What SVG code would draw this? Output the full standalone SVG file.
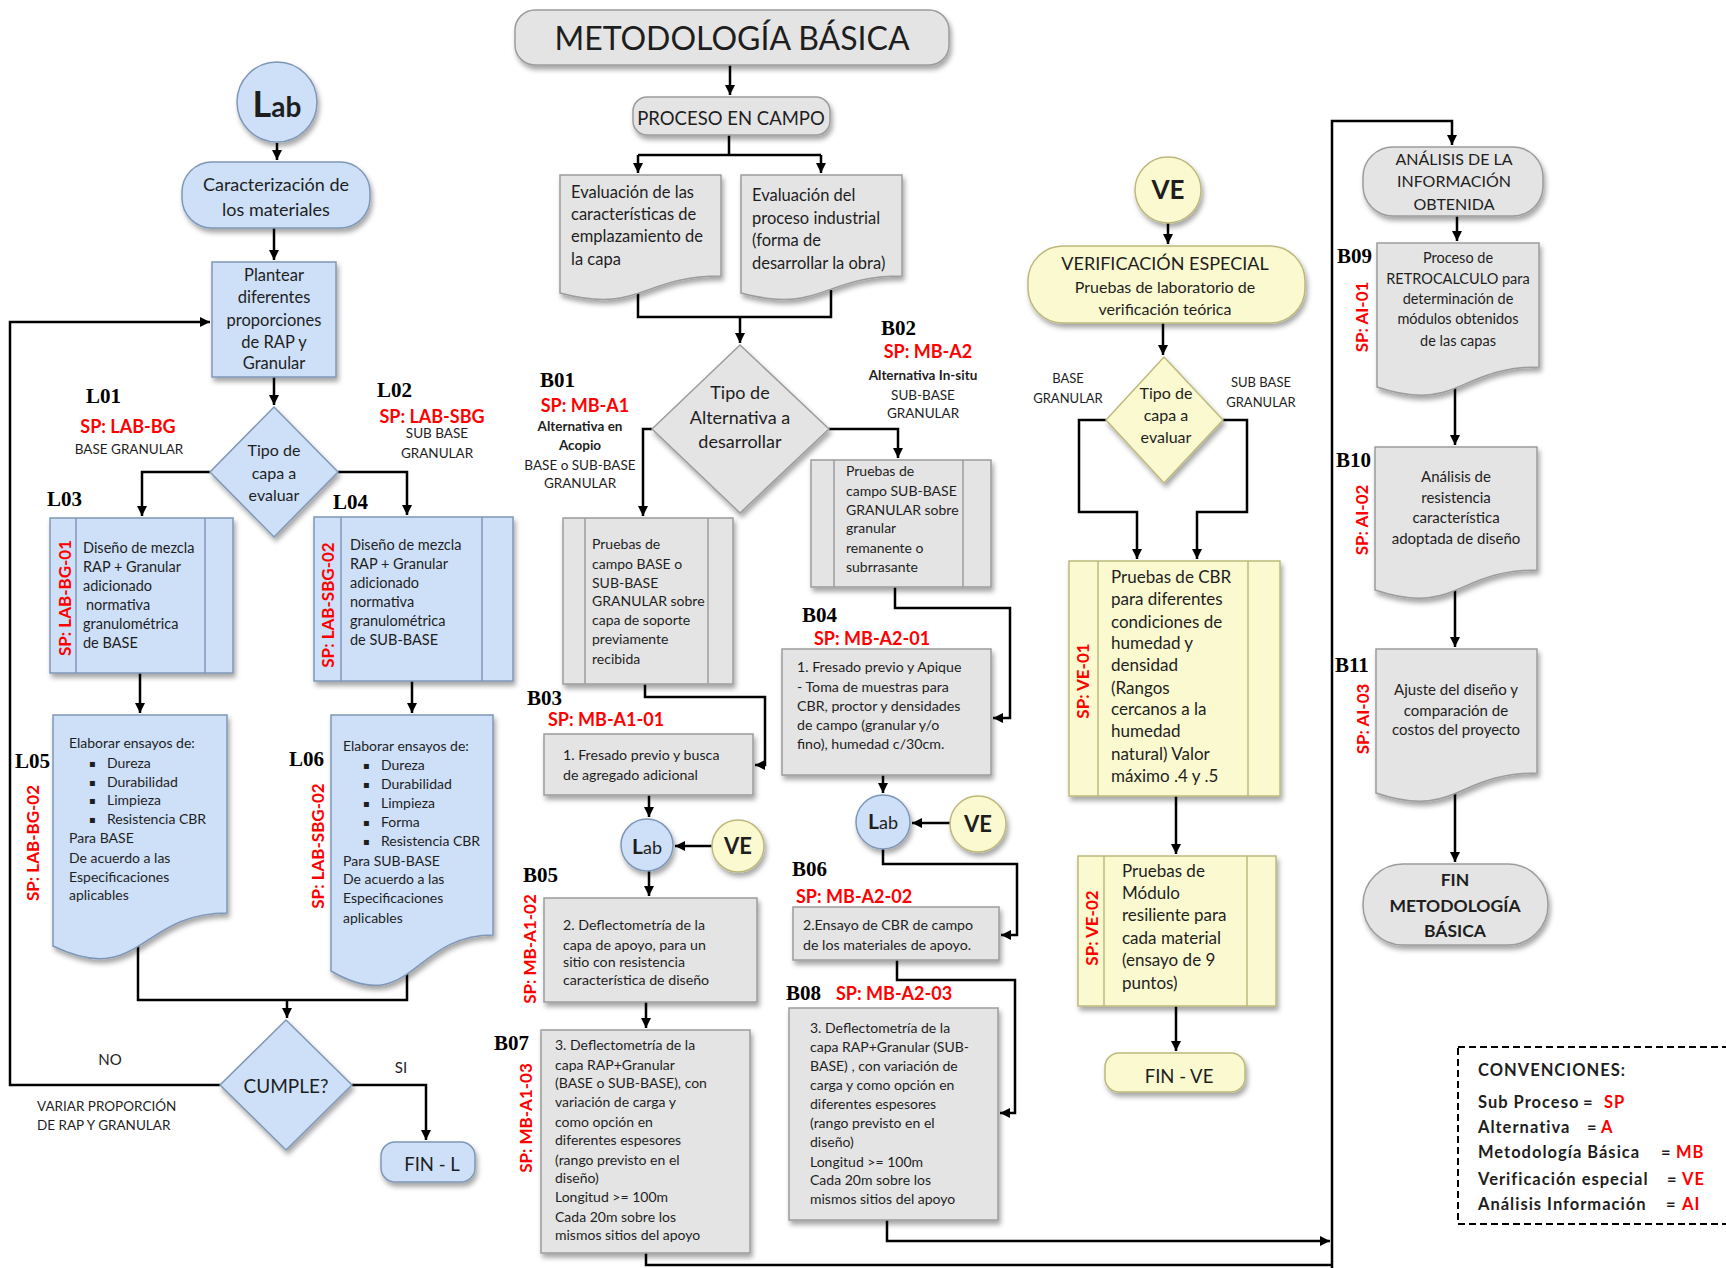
<svg xmlns="http://www.w3.org/2000/svg" width="1726" height="1268" viewBox="0 0 1726 1268">
<defs>
<style>
.f{font-family:Lato,"Liberation Sans",sans-serif;fill:#1e1e1e}
.b{font-weight:bold}
.m{text-anchor:middle}
.lb{font-family:"Liberation Serif",serif;font-weight:bold;font-size:21px;fill:#000}
.sp{font-family:Lato,"Liberation Sans",sans-serif;font-weight:bold;fill:#ff0000;font-size:18px}
.spv{font-family:Lato,"Liberation Sans",sans-serif;font-weight:bold;fill:#ff0000;font-size:17px;text-anchor:middle}
.blue{fill:#cde0f8;stroke:#7f97b7;stroke-width:1.5}
.gray{fill:#e4e4e4;stroke:#9c9c9c;stroke-width:1.5}
.yel{fill:#fbf9cf;stroke:#bdb97c;stroke-width:1.5}
.ilb{stroke:#7f97b7;stroke-width:1.5}
.ilg{stroke:#9c9c9c;stroke-width:1.5}
.ily{stroke:#bdb97c;stroke-width:1.5}
.sh{filter:url(#sh)}
.c{fill:none;stroke:#000;stroke-width:2.5}
.a{marker-end:url(#ah)}
.bul{font-family:"DejaVu Sans",sans-serif;font-size:10px;fill:#1e1e1e}
</style>
<filter id="sh" x="-15%" y="-15%" width="135%" height="140%">
<feDropShadow dx="2" dy="4" stdDeviation="2.5" flood-color="#000" flood-opacity="0.35"/>
</filter>
<marker id="ah" viewBox="0 0 10 10" refX="10" refY="5" markerWidth="10" markerHeight="10" markerUnits="userSpaceOnUse" orient="auto">
<path d="M0,0 L10,5 L0,10 z" fill="#000"/>
</marker>
</defs>
<rect width="1726" height="1268" fill="#fff"/>

<g id="connectors">
<path class="c a" d="M277,143 V160"/>
<path class="c a" d="M274,228 V260"/>
<path class="c a" d="M274,377 V405"/>
<path class="c a" d="M210,472 H142 V516"/>
<path class="c a" d="M338,472 H407 V515"/>
<path class="c a" d="M140,673 V713"/>
<path class="c a" d="M412,681 V713"/>
<path class="c" d="M138,945 V1000 H407 V970"/>
<path class="c a" d="M287,1000 V1018"/>
<path class="c a" d="M220,1085 H10 V322 H210"/>
<path class="c a" d="M352,1085 H426 V1140"/>
<path class="c a" d="M730,65 V95"/>
<path class="c" d="M729,135 V155 M638,155 H821"/>
<path class="c a" d="M638,155 V173"/>
<path class="c a" d="M821,155 V173"/>
<path class="c" d="M638,292 V317 H831 V290"/>
<path class="c a" d="M740,317 V343"/>
<path class="c a" d="M652,429 H643 V516"/>
<path class="c a" d="M829,429 H898 V458"/>
<path class="c a" d="M645,684 V697 H765 V765 H755"/>
<path class="c a" d="M895,587 V608 H1010 V718 H993"/>
<path class="c a" d="M649,795 V817"/>
<path class="c a" d="M712,846 H675"/>
<path class="c a" d="M649,871 V896"/>
<path class="c a" d="M883,775 V793"/>
<path class="c a" d="M950,823 H912"/>
<path class="c a" d="M883,849 V864 H1017 V935 H1001"/>
<path class="c a" d="M897,960 V980 H1015 V1113 H1000"/>
<path class="c a" d="M646,1002 V1028"/>
<path class="c a" d="M887,1220 V1241 H1330"/>
<path class="c" d="M646,1253 V1265 H1332"/>
<path class="c a" d="M1332,1268 V121 H1452 V145"/>
<path class="c a" d="M1457,216 V241"/>
<path class="c a" d="M1455,387 V445"/>
<path class="c a" d="M1455,590 V647"/>
<path class="c a" d="M1455,793 V862"/>
<path class="c a" d="M1168,223 V244"/>
<path class="c a" d="M1163,323 V355"/>
<path class="c a" d="M1106,420 H1079 V512 H1137 V559"/>
<path class="c a" d="M1223,420 H1247 V512 H1197 V559"/>
<path class="c a" d="M1176,796 V854"/>
<path class="c a" d="M1176,1006 V1051"/>
</g>

<!-- LEFT COLUMN -->
<g id="lab-start">
<circle class="blue sh" cx="277" cy="102" r="40"/>
<text class="f b m" x="277" y="117"><tspan font-size="36">L</tspan><tspan font-size="28">ab</tspan></text>
</g>
<g id="caracterizacion">
<rect class="blue sh" x="182" y="162" width="188" height="66" rx="30"/>
<text class="f m" font-size="18"><tspan x="276" y="191">Caracterización de</tspan><tspan x="276" y="216">los materiales</tspan></text>
</g>
<g id="plantear">
<rect class="blue sh" x="212" y="262" width="124" height="115"/>
<text class="f m" font-size="16.5"><tspan x="274" y="281">Plantear</tspan><tspan x="274" y="303">diferentes</tspan><tspan x="274" y="326">proporciones</tspan><tspan x="274" y="348">de RAP y</tspan><tspan x="274" y="369">Granular</tspan></text>
</g>
<g id="tipo-capa-lab">
<polygon class="blue sh" points="274,407 338,472 274,537 210,472"/>
<text class="f m" font-size="16"><tspan x="274" y="456">Tipo de</tspan><tspan x="274" y="479">capa a</tspan><tspan x="274" y="501">evaluar</tspan></text>
</g>
<g id="L01-label">
<text class="lb" x="86" y="403">L01</text>
<text class="sp m" x="128" y="433">SP: LAB-BG</text>
<text class="f m" font-size="13.5" x="129" y="454">BASE GRANULAR</text>
</g>
<g id="L02-label">
<text class="lb" x="377" y="397">L02</text>
<text class="sp m" x="432" y="423">SP: LAB-SBG</text>
<text class="f m" font-size="13.5"><tspan x="437" y="438">SUB BASE</tspan><tspan x="437" y="458">GRANULAR</tspan></text>
</g>
<g id="L03">
<text class="lb" x="47" y="506">L03</text>
<rect class="blue sh" x="50" y="518" width="183" height="155"/>
<line class="ilb" x1="76" y1="518" x2="76" y2="673"/><line class="ilb" x1="205" y1="518" x2="205" y2="673"/>
<text class="spv" transform="translate(65,598) rotate(-90)" y="6">SP: LAB-BG-01</text>
<text class="f" font-size="14.5"><tspan x="83" y="553">Diseño de mezcla</tspan><tspan x="83" y="572">RAP + Granular</tspan><tspan x="83" y="591">adicionado</tspan><tspan x="86" y="610">normativa</tspan><tspan x="83" y="629">granulométrica</tspan><tspan x="83" y="648">de BASE</tspan></text>
</g>
<g id="L04">
<text class="lb" x="333" y="509">L04</text>
<rect class="blue sh" x="314" y="517" width="199" height="164"/>
<line class="ilb" x1="341" y1="517" x2="341" y2="681"/><line class="ilb" x1="482" y1="517" x2="482" y2="681"/>
<text class="spv" transform="translate(328,605) rotate(-90)" y="6">SP: LAB-SBG-02</text>
<text class="f" font-size="14.5"><tspan x="350" y="550">Diseño de mezcla</tspan><tspan x="350" y="569">RAP + Granular</tspan><tspan x="350" y="588">adicionado</tspan><tspan x="350" y="607">normativa</tspan><tspan x="350" y="626">granulométrica</tspan><tspan x="350" y="645">de SUB-BASE</tspan></text>
</g>
<g id="L05">
<text class="lb" x="15" y="768">L05</text>
<path class="blue sh" d="M53,715 H227 V913 C140,913 140,988 53,946 Z"/>
<text class="spv" transform="translate(33,843) rotate(-90)" y="6">SP: LAB-BG-02</text>
<text class="f" font-size="14"><tspan x="69" y="748">Elaborar ensayos de:</tspan><tspan x="107" y="768">Dureza</tspan><tspan x="107" y="787">Durabilidad</tspan><tspan x="107" y="805">Limpieza</tspan><tspan x="107" y="824">Resistencia CBR</tspan><tspan x="69" y="843">Para BASE</tspan><tspan x="69" y="863">De acuerdo a las</tspan><tspan x="69" y="882">Especificaciones</tspan><tspan x="69" y="900">aplicables</tspan></text>
<text class="bul"><tspan x="89" y="767">▪</tspan><tspan x="89" y="786">▪</tspan><tspan x="89" y="804">▪</tspan><tspan x="89" y="823">▪</tspan></text>
</g>
<g id="L06">
<text class="lb" x="289" y="766">L06</text>
<path class="blue sh" d="M331,715 H493 V935 C412,935 412,1018 331,971 Z"/>
<text class="spv" transform="translate(318,846) rotate(-90)" y="6">SP: LAB-SBG-02</text>
<text class="f" font-size="14"><tspan x="343" y="751">Elaborar ensayos de:</tspan><tspan x="381" y="770">Dureza</tspan><tspan x="381" y="789">Durabilidad</tspan><tspan x="381" y="808">Limpieza</tspan><tspan x="381" y="827">Forma</tspan><tspan x="381" y="846">Resistencia CBR</tspan><tspan x="343" y="866">Para SUB-BASE</tspan><tspan x="343" y="884">De acuerdo a las</tspan><tspan x="343" y="903">Especificaciones</tspan><tspan x="343" y="923">aplicables</tspan></text>
<text class="bul"><tspan x="363" y="769">▪</tspan><tspan x="363" y="788">▪</tspan><tspan x="363" y="807">▪</tspan><tspan x="363" y="826">▪</tspan><tspan x="363" y="845">▪</tspan></text>
</g>
<g id="cumple">
<polygon class="blue sh" points="286,1020 352,1085 286,1150 220,1085"/>
<text class="f m" font-size="19" x="286" y="1093">CUMPLE?</text>
<text class="f m" font-size="15" x="110" y="1065">NO</text>
<text class="f m" font-size="15" x="401" y="1073">SI</text>
<text class="f" font-size="13.5"><tspan x="37" y="1111">VARIAR PROPORCIÓN</tspan><tspan x="37" y="1130">DE RAP Y GRANULAR</tspan></text>
</g>
<g id="fin-l">
<rect class="blue sh" x="381" y="1142" width="94" height="40" rx="14"/>
<text class="f m" font-size="18.5" x="432" y="1171">FIN - L</text>
</g>

<!-- MIDDLE COLUMN -->
<g id="titulo">
<rect class="gray sh" x="515" y="10" width="434" height="55" rx="20"/>
<text class="f m" font-size="32" x="732" y="50">METODOLOGÍA BÁSICA</text>
</g>
<g id="proceso-campo">
<rect class="gray sh" x="633" y="97" width="197" height="38" rx="14"/>
<text class="f m" font-size="18.5" x="731" y="125">PROCESO EN CAMPO</text>
</g>
<g id="eval-emplazamiento">
<path class="gray sh" d="M560,175 H721 V276 C640.5,276 640.5,314.5 560,293 Z"/>
<text class="f" font-size="16.5"><tspan x="571" y="198">Evaluación de las</tspan><tspan x="571" y="220">características de</tspan><tspan x="571" y="242">emplazamiento de</tspan><tspan x="571" y="265">la capa</tspan></text>
</g>
<g id="eval-proceso">
<path class="gray sh" d="M741,175 H902 V276 C821.5,276 821.5,314.5 741,293 Z"/>
<text class="f" font-size="16.5"><tspan x="752" y="201">Evaluación del</tspan><tspan x="752" y="224">proceso industrial</tspan><tspan x="752" y="246">(forma de</tspan><tspan x="752" y="269">desarrollar la obra)</tspan></text>
</g>
<g id="tipo-alternativa">
<polygon class="gray sh" points="740,345 829,429 740,513 652,429"/>
<text class="f m" font-size="18"><tspan x="740" y="399">Tipo de</tspan><tspan x="740" y="424">Alternativa a</tspan><tspan x="740" y="448">desarrollar</tspan></text>
</g>
<g id="B01-label">
<text class="lb" x="540" y="387">B01</text>
<text class="sp m" x="585" y="412">SP: MB-A1</text>
<text class="f b m" font-size="13.5"><tspan x="580" y="431">Alternativa en</tspan><tspan x="580" y="450">Acopio</tspan></text>
<text class="f m" font-size="13.5"><tspan x="580" y="470">BASE o SUB-BASE</tspan><tspan x="580" y="488">GRANULAR</tspan></text>
</g>
<g id="B02-label">
<text class="lb" x="881" y="335">B02</text>
<text class="sp m" x="928" y="358">SP: MB-A2</text>
<text class="f b m" font-size="13.5" x="923" y="380">Alternativa In-situ</text>
<text class="f m" font-size="13.5"><tspan x="923" y="400">SUB-BASE</tspan><tspan x="923" y="418">GRANULAR</tspan></text>
</g>
<g id="B01">
<rect class="gray sh" x="563" y="518" width="170" height="166"/>
<line class="ilg" x1="585" y1="518" x2="585" y2="684"/><line class="ilg" x1="708" y1="518" x2="708" y2="684"/>
<text class="f" font-size="14"><tspan x="592" y="549">Pruebas de</tspan><tspan x="592" y="569">campo BASE o</tspan><tspan x="592" y="588">SUB-BASE</tspan><tspan x="592" y="606">GRANULAR sobre</tspan><tspan x="592" y="625">capa de soporte</tspan><tspan x="592" y="644">previamente</tspan><tspan x="592" y="664">recibida</tspan></text>
</g>
<g id="B02">
<rect class="gray sh" x="811" y="460" width="180" height="127"/>
<line class="ilg" x1="834" y1="460" x2="834" y2="587"/><line class="ilg" x1="963" y1="460" x2="963" y2="587"/>
<text class="f" font-size="14"><tspan x="846" y="476">Pruebas de</tspan><tspan x="846" y="496">campo SUB-BASE</tspan><tspan x="846" y="515">GRANULAR sobre</tspan><tspan x="846" y="533">granular</tspan><tspan x="846" y="553">remanente o</tspan><tspan x="846" y="572">subrrasante</tspan></text>
</g>
<g id="B03">
<text class="lb" x="527" y="705">B03</text>
<text class="sp" x="548" y="726">SP: MB-A1-01</text>
<rect class="gray sh" x="544" y="734" width="209" height="61"/>
<text class="f" font-size="14.2"><tspan x="563" y="760">1. Fresado previo y busca</tspan><tspan x="563" y="780">de agregado adicional</tspan></text>
</g>
<g id="B04">
<text class="lb" x="802" y="622">B04</text>
<text class="sp" x="814" y="645">SP: MB-A2-01</text>
<rect class="gray sh" x="782" y="649" width="209" height="126"/>
<text class="f" font-size="14.2"><tspan x="797" y="672">1. Fresado previo y Apique</tspan><tspan x="797" y="692">- Toma de muestras para</tspan><tspan x="797" y="711">CBR, proctor y densidades</tspan><tspan x="797" y="730">de campo (granular y/o</tspan><tspan x="797" y="749">fino), humedad c/30cm.</tspan></text>
</g>
<g id="lab-a1">
<circle class="blue sh" cx="647" cy="845" r="26"/>
<text class="f m" x="647" y="854"><tspan class="b" font-size="21">L</tspan><tspan font-size="18">ab</tspan></text>
</g>
<g id="ve-a1">
<circle class="yel sh" cx="738" cy="846" r="26"/>
<text class="f b m" font-size="22" x="738" y="854">VE</text>
</g>
<g id="lab-a2">
<circle class="blue sh" cx="883" cy="822" r="27"/>
<text class="f m" x="883" y="829"><tspan class="b" font-size="21">L</tspan><tspan font-size="18">ab</tspan></text>
</g>
<g id="ve-a2">
<circle class="yel sh" cx="978" cy="824" r="28"/>
<text class="f b m" font-size="22" x="978" y="832">VE</text>
</g>
<g id="B05">
<text class="lb" x="523" y="882">B05</text>
<text class="spv" transform="translate(530,949) rotate(-90)" y="6">SP: MB-A1-02</text>
<rect class="gray sh" x="544" y="898" width="213" height="104"/>
<text class="f" font-size="14.2"><tspan x="563" y="930">2. Deflectometría de la</tspan><tspan x="563" y="950">capa de apoyo, para un</tspan><tspan x="563" y="967">sitio con resistencia</tspan><tspan x="563" y="985">característica de diseño</tspan></text>
</g>
<g id="B06">
<text class="lb" x="792" y="876">B06</text>
<text class="sp" x="796" y="903">SP: MB-A2-02</text>
<rect class="gray sh" x="793" y="907" width="206" height="53"/>
<text class="f" font-size="14.2"><tspan x="803" y="930">2.Ensayo de CBR de campo</tspan><tspan x="803" y="950">de los materiales de apoyo.</tspan></text>
</g>
<g id="B07">
<text class="lb" x="494" y="1050">B07</text>
<text class="spv" transform="translate(526,1118) rotate(-90)" y="6">SP: MB-A1-03</text>
<rect class="gray sh" x="541" y="1030" width="209" height="223"/>
<text class="f" font-size="14"><tspan x="555" y="1050">3. Deflectometría de la</tspan><tspan x="555" y="1070">capa RAP+Granular</tspan><tspan x="555" y="1088">(BASE o SUB-BASE), con</tspan><tspan x="555" y="1107">variación de carga y</tspan><tspan x="555" y="1127">como opción en</tspan><tspan x="555" y="1145">diferentes espesores</tspan><tspan x="555" y="1165">(rango previsto en el</tspan><tspan x="555" y="1183">diseño)</tspan><tspan x="555" y="1202">Longitud &gt;= 100m</tspan><tspan x="555" y="1222">Cada 20m sobre los</tspan><tspan x="555" y="1240">mismos sitios del apoyo</tspan></text>
</g>
<g id="B08">
<text class="lb" x="786" y="1000">B08</text>
<text class="sp" x="836" y="1000">SP: MB-A2-03</text>
<rect class="gray sh" x="789" y="1008" width="209" height="212"/>
<text class="f" font-size="14"><tspan x="810" y="1033">3. Deflectometría de la</tspan><tspan x="810" y="1052">capa RAP+Granular (SUB-</tspan><tspan x="810" y="1071">BASE) , con variación de</tspan><tspan x="810" y="1090">carga y como opción en</tspan><tspan x="810" y="1109">diferentes espesores</tspan><tspan x="810" y="1128">(rango previsto en el</tspan><tspan x="810" y="1147">diseño)</tspan><tspan x="810" y="1167">Longitud &gt;= 100m</tspan><tspan x="810" y="1185">Cada 20m sobre los</tspan><tspan x="810" y="1204">mismos sitios del apoyo</tspan></text>
</g>

<!-- VE COLUMN -->
<g id="ve-start">
<circle class="yel sh" cx="1168" cy="190" r="33"/>
<text class="f b m" font-size="26" x="1168" y="199">VE</text>
</g>
<g id="verificacion">
<rect class="yel sh" x="1028" y="246" width="277" height="77" rx="35"/>
<text class="f m" font-size="18" x="1165" y="270">VERIFICACIÓN ESPECIAL</text>
<text class="f m" font-size="16"><tspan x="1165" y="293">Pruebas de laboratorio de</tspan><tspan x="1165" y="315">verificación teórica</tspan></text>
</g>
<g id="tipo-capa-ve">
<polygon class="yel sh" points="1164,357 1223,420 1164,483 1106,420"/>
<text class="f m" font-size="16"><tspan x="1166" y="399">Tipo de</tspan><tspan x="1166" y="421">capa a</tspan><tspan x="1166" y="443">evaluar</tspan></text>
<text class="f m" font-size="13"><tspan x="1068" y="383">BASE</tspan><tspan x="1068" y="403">GRANULAR</tspan></text>
<text class="f m" font-size="13"><tspan x="1261" y="387">SUB BASE</tspan><tspan x="1261" y="407">GRANULAR</tspan></text>
</g>
<g id="VE01">
<rect class="yel sh" x="1069" y="561" width="211" height="235"/>
<line class="ily" x1="1098" y1="561" x2="1098" y2="796"/><line class="ily" x1="1248" y1="561" x2="1248" y2="796"/>
<text class="spv" transform="translate(1083,681) rotate(-90)" y="6">SP: VE-01</text>
<text class="f" font-size="17"><tspan x="1111" y="583">Pruebas de CBR</tspan><tspan x="1111" y="605">para diferentes</tspan><tspan x="1111" y="628">condiciones de</tspan><tspan x="1111" y="649">humedad y</tspan><tspan x="1111" y="671">densidad</tspan><tspan x="1111" y="694">(Rangos</tspan><tspan x="1111" y="715">cercanos a la</tspan><tspan x="1111" y="737">humedad</tspan><tspan x="1111" y="760">natural) Valor</tspan><tspan x="1111" y="782">máximo .4 y .5</tspan></text>
</g>
<g id="VE02">
<rect class="yel sh" x="1078" y="856" width="198" height="150"/>
<line class="ily" x1="1104" y1="856" x2="1104" y2="1006"/><line class="ily" x1="1247" y1="856" x2="1247" y2="1006"/>
<text class="spv" transform="translate(1092,928) rotate(-90)" y="6">SP: VE-02</text>
<text class="f" font-size="17"><tspan x="1122" y="877">Pruebas de</tspan><tspan x="1122" y="899">Módulo</tspan><tspan x="1122" y="921">resiliente para</tspan><tspan x="1122" y="944">cada material</tspan><tspan x="1122" y="966">(ensayo de 9</tspan><tspan x="1122" y="989">puntos)</tspan></text>
</g>
<g id="fin-ve">
<rect class="yel sh" x="1105" y="1053" width="140" height="39" rx="14"/>
<text class="f m" font-size="18.5" x="1179" y="1083">FIN - VE</text>
</g>

<!-- RIGHT COLUMN -->
<g id="analisis">
<rect class="gray sh" x="1363" y="147" width="180" height="69" rx="30"/>
<text class="f m" font-size="16"><tspan x="1454" y="165">ANÁLISIS DE LA</tspan><tspan x="1454" y="187">INFORMACIÓN</tspan><tspan x="1454" y="210">OBTENIDA</tspan></text>
</g>
<g id="B09">
<text class="lb" x="1337" y="263">B09</text>
<text class="spv" transform="translate(1362,317) rotate(-90)" y="6">SP: AI-01</text>
<path class="gray sh" d="M1377,243 H1539 V367 C1458,367 1458,414 1377,387 Z"/>
<text class="f m" font-size="14.5"><tspan x="1458" y="263">Proceso de</tspan><tspan x="1458" y="284">RETROCALCULO para</tspan><tspan x="1458" y="304">determinación de</tspan><tspan x="1458" y="324">módulos obtenidos</tspan><tspan x="1458" y="346">de las capas</tspan></text>
</g>
<g id="B10">
<text class="lb" x="1336" y="467">B10</text>
<text class="spv" transform="translate(1362,520) rotate(-90)" y="6">SP: AI-02</text>
<path class="gray sh" d="M1375,447 H1537 V570 C1456,570 1456,617 1375,590 Z"/>
<text class="f m" font-size="15"><tspan x="1456" y="482">Análisis de</tspan><tspan x="1456" y="503">resistencia</tspan><tspan x="1456" y="523">característica</tspan><tspan x="1456" y="544">adoptada de diseño</tspan></text>
</g>
<g id="B11">
<text class="lb" x="1335" y="672">B11</text>
<text class="spv" transform="translate(1363,719) rotate(-90)" y="6">SP: AI-03</text>
<path class="gray sh" d="M1376,649 H1537 V773 C1456,773 1456,820 1376,793 Z"/>
<text class="f m" font-size="15"><tspan x="1456" y="695">Ajuste del diseño y</tspan><tspan x="1456" y="716">comparación de</tspan><tspan x="1456" y="735">costos del proyecto</tspan></text>
</g>
<g id="fin-mb">
<rect class="gray sh" x="1363" y="864" width="185" height="81" rx="40"/>
<text class="f b m" font-size="17.5"><tspan x="1455" y="886">FIN</tspan><tspan x="1455" y="912">METODOLOGÍA</tspan><tspan x="1455" y="937">BÁSICA</tspan></text>
</g>
<g id="convenciones">
<rect x="1458" y="1047" width="300" height="177" fill="none" stroke="#000" stroke-width="2" stroke-dasharray="7,4"/>
<text class="f b" font-size="16.5" letter-spacing="1">
<tspan x="1478" y="1076">CONVENCIONES:</tspan>
<tspan x="1478" y="1108">Sub Proceso</tspan><tspan x="1583" y="1108">=</tspan><tspan x="1604" y="1108" fill="#ff0000">SP</tspan>
<tspan x="1478" y="1133">Alternativa</tspan><tspan x="1587" y="1133">=</tspan><tspan x="1601" y="1133" fill="#ff0000">A</tspan>
<tspan x="1478" y="1158">Metodología Básica</tspan><tspan x="1661" y="1158">=</tspan><tspan x="1676" y="1158" fill="#ff0000">MB</tspan>
<tspan x="1478" y="1185">Verificación especial</tspan><tspan x="1667" y="1185">=</tspan><tspan x="1682" y="1185" fill="#ff0000">VE</tspan>
<tspan x="1478" y="1210">Análisis Información</tspan><tspan x="1666" y="1210">=</tspan><tspan x="1682" y="1210" fill="#ff0000">AI</tspan>
</text>
</g>
</svg>
